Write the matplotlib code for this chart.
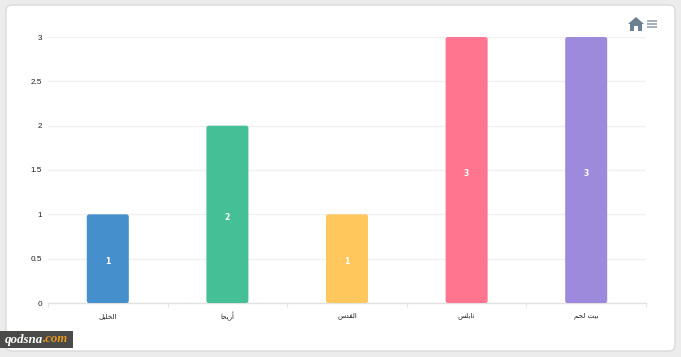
import matplotlib
matplotlib.use('Agg')
import matplotlib.pyplot as plt
from matplotlib.patches import FancyBboxPatch, Polygon, Rectangle

categories = ['الخليل', 'أريحا', 'القدس', 'نابلس', 'بيت لحم']
values = [1, 2, 1, 3, 3]
bar_colors = ['#458fcd', '#45bf95', '#ffc75c', '#ff758f', '#9d8adc']
y_ticks = [0, 0.5, 1, 1.5, 2, 2.5, 3]
y_tick_labels = ['0', '0.5', '1', '1.5', '2', '2.5', '3']

W, H = 681, 357

# isolated, final, initial, medial presentation forms
FORMS = {
    'ا': '\ufe8d\ufe8e', 'أ': '\ufe83\ufe84', 'د': '\ufea9\ufeaa', 'ر': '\ufead\ufeae',
    'ل': '\ufedd\ufede\ufedf\ufee0', 'خ': '\ufea5\ufea6\ufea7\ufea8',
    'ي': '\ufef1\ufef2\ufef3\ufef4', 'ح': '\ufea1\ufea2\ufea3\ufea4',
    'ق': '\ufed5\ufed6\ufed7\ufed8', 'س': '\ufeb1\ufeb2\ufeb3\ufeb4',
    'ن': '\ufee5\ufee6\ufee7\ufee8', 'ب': '\ufe8f\ufe90\ufe91\ufe92',
    'ت': '\ufe95\ufe96\ufe97\ufe98', 'م': '\ufee1\ufee2\ufee3\ufee4',
}


def shape(word):
    # matplotlib does no Arabic joining, so pick the forms and reverse by hand
    out = []
    for i, c in enumerate(word):
        if c not in FORMS:
            out.append(c)
            continue
        prev = word[i - 1] if i > 0 else ' '
        nxt = word[i + 1] if i < len(word) - 1 else ' '
        joins_prev = prev in FORMS and len(FORMS[prev]) == 4
        joins_next = nxt in FORMS and len(FORMS[c]) == 4
        idx = {(False, False): 0, (True, False): 1, (False, True): 2, (True, True): 3}[(joins_prev, joins_next)]
        out.append(FORMS[c][idx])
    return ''.join(reversed(out))


fig = plt.figure(figsize=(W / 100, H / 100), dpi=100, facecolor='#ececec')

# page layer in pixel coordinates
bg = fig.add_axes([0, 0, 1, 1])
bg.set_xlim(0, W)
bg.set_ylim(H, 0)
bg.axis('off')
bg.add_patch(FancyBboxPatch((6, 5), 669, 346, boxstyle='round,pad=0,rounding_size=6',
                            fc='white', ec='#dadada', lw=1))

# home icon and menu
icon = '#6c8094'
bg.add_patch(Polygon([(628, 24), (636, 17), (644, 24), (642, 24), (642, 31), (638, 31),
                      (638, 26), (634, 26), (634, 31), (630, 31), (630, 24)], fc=icon, ec='none'))
for y in (20.5, 23.5, 26.5):
    bg.plot([647, 657], [y, y], color='#8a9aa8', lw=1.1, solid_capstyle='butt')

# watermark
bg.add_patch(Rectangle((0, 331), 73, 17, fc='#4a4a48', ec='none'))
bg.text(5, 339.5, 'qodsna', color='white', fontsize=9.4, family='Liberation Serif',
        weight='bold', style='italic', va='center', ha='left')
bg.text(43, 339.5, '.com', color='#e8961e', fontsize=9.2, family='Liberation Serif',
        weight='bold', style='italic', va='center', ha='left')

ax = fig.add_axes([48 / W, (H - 303) / H, 598 / W, 266 / H])
ax.patch.set_visible(False)
ax.set_xlim(-0.5, 4.5)
ax.set_ylim(0, 3)

x = list(range(len(categories)))
bar_width = 42 / (598 / 5)
for xi, v, c in zip(x, values, bar_colors):
    ax.add_patch(FancyBboxPatch((xi - bar_width / 2, 0), bar_width, v,
                                boxstyle='round,pad=0,rounding_size=0.02',
                                mutation_aspect=(3 / 266) / (5 / 598),
                                fc=c, ec='none', zorder=3, clip_on=False))
    ax.annotate(str(v), (xi, v / 2), xytext=(0, -3), textcoords='offset pixels',
                ha='center', va='center', color='white', fontsize=5.6,
                fontweight='bold', zorder=4)
    ax.plot([xi - bar_width / 2, xi + bar_width / 2], [0, 0], color=c, lw=1, zorder=4,
            solid_capstyle='butt')

ax.set_yticks(y_ticks)
ax.set_yticklabels(y_tick_labels, fontsize=5.9, color='#222222', family='Liberation Sans')
ax.tick_params(axis='y', length=0, pad=4.3)
ax.grid(axis='y', color='#f0f0f0', lw=1)
ax.set_axisbelow(True)

ax.set_xticks(x)
ax.set_xticklabels([shape(c) for c in categories], fontsize=5, color='#222222', va='center')
ax.tick_params(axis='x', length=0, pad=9.4)
# tick marks sit on the category boundaries
ax.set_xticks([i - 0.5 for i in range(len(categories) + 1)], minor=True)
ax.tick_params(axis='x', which='minor', length=3, width=0.8, color='#e6e6e6')

for s in ('top', 'right', 'left'):
    ax.spines[s].set_visible(False)
ax.spines['bottom'].set_color('#e2e2e2')
ax.spines['bottom'].set_linewidth(1)

fig.savefig('out.png', dpi=100)
